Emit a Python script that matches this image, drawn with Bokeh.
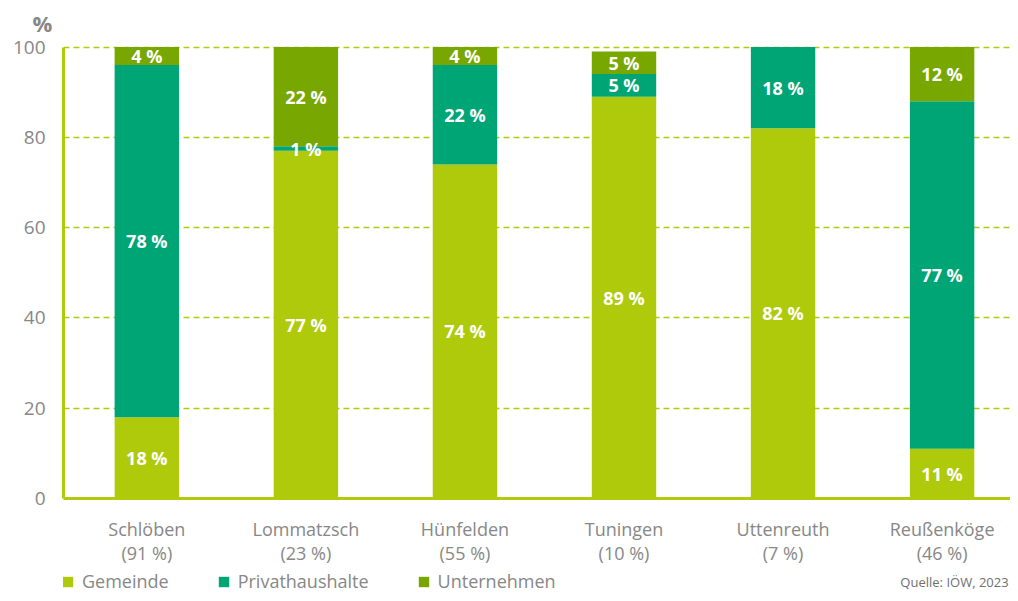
from bokeh.plotting import figure
from bokeh.layouts import column
from bokeh.models import ColumnDataSource, FixedTicker, Label, LabelSet, Range1d
from bokeh.core.properties import value
from bokeh.embed import file_html
from bokeh.resources import INLINE

categories = ["Schlöben", "Lommatzsch", "Hünfelden", "Tuningen", "Uttenreuth", "Reußenköge"]
shares = ["91 %", "23 %", "55 %", "10 %", "7 %", "46 %"]
gemeinde = [18, 77, 74, 89, 82, 11]
privat = [78, 1, 22, 5, 18, 77]
unternehmen = [4, 22, 4, 5, 0, 12]
series_names = ["Gemeinde", "Privathaushalte", "Unternehmen"]
colors = ["#afca0b", "#00a575", "#77a700"]
y_ticks = [0, 20, 40, 60, 80, 100]
source_note = "Quelle: IÖW, 2023"

FONT = "Open Sans"
GRAY = "#878787"
LIME = "#b0cb0b"

xs = list(range(len(categories)))
src = ColumnDataSource(dict(x=xs, gemeinde=gemeinde, privat=privat, unternehmen=unternehmen))

p = figure(width=1010, height=568, output_backend="svg", toolbar_location=None,
           x_range=Range1d(-0.524, 5.43), y_range=Range1d(0, 101),
           min_border_left=63, min_border_right=0, min_border_top=39, min_border_bottom=70)
p.outline_line_color = None
p.background_fill_color = "white"

p.title.text = "%"
p.title.align = "left"
p.title.offset = -31
p.title.text_font = FONT
p.title.text_font_size = "22px"
p.title.text_font_style = "bold"
p.title.text_color = GRAY

rs = p.vbar_stack(["gemeinde", "privat", "unternehmen"], x="x", width=0.405, source=src,
                  color=colors, line_color=None)

# segment labels
lx, ly, lt = [], [], []
for i in xs:
    bottom = 0
    for vals in (gemeinde, privat, unternehmen):
        v = vals[i]
        if v > 0:
            lx.append(i)
            ly.append(bottom + v / 2)
            lt.append(f"{v} %")
        bottom += v
lsrc = ColumnDataSource(dict(x=lx, y=ly, t=lt))
p.add_layout(LabelSet(x="x", y="y", text="t", source=lsrc, text_align="center",
                      text_baseline="middle", text_color="white", text_font=value(FONT),
                      text_font_size="18px", text_font_style="bold"))

# axes
p.xaxis.ticker = FixedTicker(ticks=xs)
p.xaxis.major_label_overrides = {i: f"{c}\n({s})" for i, c, s in zip(xs, categories, shares)}
p.xaxis.major_label_text_font = FONT
p.xaxis.major_label_text_font_size = "18px"
p.xaxis.major_label_text_line_height = 1.0
p.xaxis.major_label_text_color = GRAY
p.xaxis.major_label_standoff = 12
p.xaxis.axis_line_color = LIME
p.xaxis.axis_line_width = 3
p.xaxis.major_tick_line_color = None
p.xaxis.minor_tick_line_color = None

p.yaxis.ticker = FixedTicker(ticks=y_ticks)
p.yaxis.bounds = (0, 100)
p.yaxis.major_label_text_font = FONT
p.yaxis.major_label_text_font_size = "19px"
p.yaxis.major_label_text_color = GRAY
p.yaxis.major_label_standoff = 12
p.yaxis.axis_line_color = LIME
p.yaxis.axis_line_width = 3
p.yaxis.major_tick_line_color = None
p.yaxis.minor_tick_line_color = None

p.xgrid.grid_line_color = None
p.ygrid.grid_line_color = LIME
p.ygrid.grid_line_dash = "6 4"
p.ygrid.grid_line_width = 1.5

# bottom strip with legend and source note
q = figure(width=1010, height=25, output_backend="svg", toolbar_location=None,
           x_range=Range1d(0, 1010), y_range=Range1d(0, 1),
           min_border=0, min_border_left=0, min_border_right=0,
           min_border_top=0, min_border_bottom=0, x_axis_type=None, y_axis_type=None)
q.outline_line_color = None
q.xgrid.grid_line_color = None
q.ygrid.grid_line_color = None
qs = q.vbar_stack(["gemeinde", "privat", "unternehmen"], x="x", width=0.405, source=src,
                  color=colors, line_color=None, legend_label=series_names)
for r in qs:
    r.visible = False
lg = q.legend[0]
lg.orientation = "horizontal"
lg.location = (-2, 0)
lg.border_line_color = None
lg.background_fill_alpha = 0
lg.inactive_fill_alpha = 0
lg.label_text_font = FONT
lg.label_text_font_size = "18px"
lg.label_text_color = GRAY
lg.glyph_width = 13
lg.glyph_height = 13
lg.spacing = 48
lg.label_standoff = 8
lg.margin = 0
lg.padding = 0
q.add_layout(Label(x=1008, y=0.45, text=source_note, text_align="right", text_baseline="middle",
                   text_font=FONT, text_font_size="13px", text_color="#6f6f6f"))

open("out.html", "w").write(file_html(column(p, q, spacing=0), INLINE))
